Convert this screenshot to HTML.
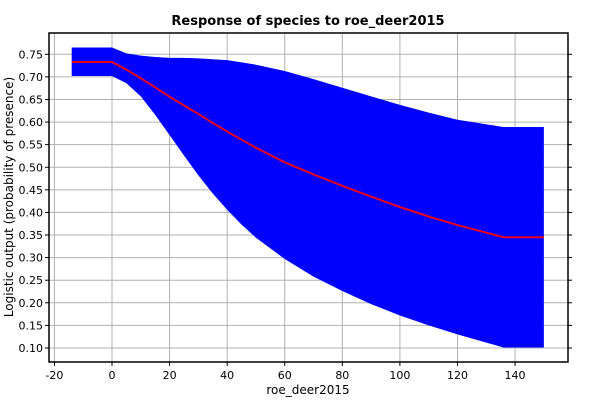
<!DOCTYPE html>
<html><head><meta charset="utf-8"><style>
body{margin:0;background:#fff}
svg text{font-family:"DejaVu Sans","Liberation Sans",sans-serif;fill:#000}
</style></head><body>
<svg id="c" width="600" height="400">
<text x="308" y="25" text-anchor="middle" font-size="13" font-weight="bold">Response of species to roe_deer2015</text>
<text x="308" y="394" text-anchor="middle" font-size="12">roe_deer2015</text>
<text transform="translate(13,197) rotate(-90)" text-anchor="middle" font-size="12">Logistic output (probability of presence)</text>
<g id="grid"></g><g id="band"></g><g id="line"></g><g id="axes"></g>
</svg>
<script>
const xs=[-14,0,5,10,15,20,25,30,35,40,45,50,60,70,80,90,100,110,120,136,150];
const meanV=[0.733,0.733,0.716,0.697,0.677,0.656,0.637,0.618,0.598,0.579,0.561,0.543,0.511,0.484,0.459,0.435,0.412,0.391,0.372,0.345,0.345];
const upperV=[0.765,0.765,0.752,0.747,0.744,0.742,0.742,0.741,0.739,0.737,0.732,0.727,0.713,0.695,0.676,0.657,0.638,0.621,0.605,0.589,0.589];
const lowerV=[0.702,0.702,0.686,0.657,0.616,0.571,0.526,0.482,0.442,0.406,0.373,0.344,0.297,0.258,0.226,0.197,0.172,0.15,0.13,0.101,0.101];
const xTicks=[-20,0,20,40,60,80,100,120,140];
const yTicks=[0.10,0.15,0.20,0.25,0.30,0.35,0.40,0.45,0.50,0.55,0.60,0.65,0.70,0.75];
const L=49,R=568,T=33,B=362;
const X=v=>112+v*2.879;
const Y=v=>54.3+(0.75-v)*451.8;
const NS='http://www.w3.org/2000/svg';
function mk(tag,attrs,parent){const e=document.createElementNS(NS,tag);for(const k in attrs)e.setAttribute(k,attrs[k]);document.getElementById(parent).appendChild(e);return e;}
xTicks.forEach(t=>{
 const g=mk('line',{x1:X(t),x2:X(t),y1:T,y2:B,stroke:'#b0b0b0','stroke-width':1},'grid');
 
 
 mk('line',{x1:X(t),x2:X(t),y1:B,y2:B+4,stroke:'#000'},'axes');
 const tx=mk('text',{x:X(t),y:B+17,'text-anchor':'middle','font-size':11},'axes');tx.textContent=t;
 
 
});
yTicks.forEach(t=>{
 const g=mk('line',{x1:L,x2:R,y1:Y(t),y2:Y(t),stroke:'#b0b0b0','stroke-width':1},'grid');
 
 
 mk('line',{x1:L-4,x2:L,y1:Y(t),y2:Y(t),stroke:'#000'},'axes');
 mk('line',{x1:R,x2:R+4,y1:Y(t),y2:Y(t),stroke:'#000'},'axes');
 const tx=mk('text',{x:L-6,y:Y(t)+4,'text-anchor':'end','font-size':11},'axes');tx.textContent=t.toFixed(2);
 
 
});
let pts=xs.map((x,i)=>X(x)+','+Y(upperV[i]));
for(let i=xs.length-1;i>=0;i--)pts.push(X(xs[i])+','+Y(lowerV[i]));
const band=mk('polygon',{points:pts.join(' '),fill:'#0000ff'},'band');


const ln=mk('polyline',{points:xs.map((x,i)=>X(x)+','+Y(meanV[i])).join(' '),fill:'none',stroke:'#e8001c','stroke-width':2},'line');


const fr=mk('rect',{x:L,y:T,width:R-L,height:B-T,fill:'none',stroke:'#000','stroke-width':1.5},'axes');


</script>
</body></html>
